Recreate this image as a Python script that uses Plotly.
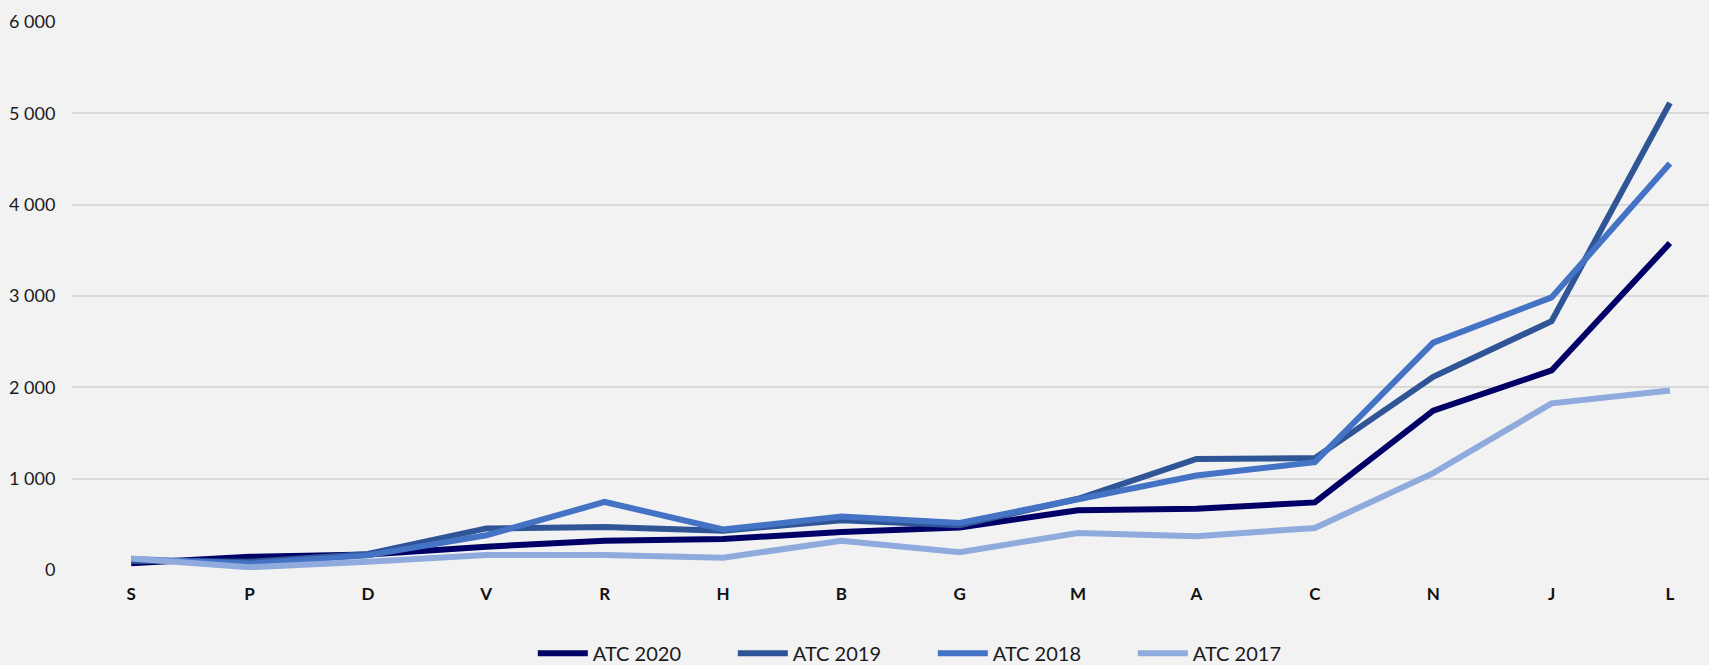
import plotly.graph_objects as go

CATEGORIES = ["S", "P", "D", "V", "R", "H", "B", "G", "M", "A", "C", "N", "J", "L"]

ATC_2020 = [75, 145, 170, 255, 320, 340, 415, 465, 655, 670, 740, 1745, 2185, 3580]
ATC_2019 = [100, 90, 175, 455, 470, 430, 545, 490, 780, 1215, 1225, 2115, 2725, 5115]
ATC_2018 = [120, 70, 160, 380, 745, 445, 585, 515, 775, 1035, 1180, 2490, 2985, 4450]
ATC_2017 = [125, 30, 90, 165, 165, 135, 320, 195, 405, 370, 460, 1060, 1825, 1965]

SERIES = [
    ("ATC 2020", ATC_2020, "#000066"),
    ("ATC 2019", ATC_2019, "#2F5597"),
    ("ATC 2018", ATC_2018, "#4472C4"),
    ("ATC 2017", ATC_2017, "#8FAADC"),
]

Y_TICKS = [0, 1000, 2000, 3000, 4000, 5000, 6000]
Y_LABELS = ["0", "1 000", "2 000", "3 000", "4 000", "5 000", "6 000"]

fig = go.Figure()
for name, values, color in SERIES:
    fig.add_trace(go.Scatter(
        x=CATEGORIES, y=values, name=name, mode="lines",
        line=dict(color=color, width=6, shape="linear"),
        hovertemplate="%{x}: %{y:,}<extra>" + name + "</extra>",
    ))

fig.update_layout(
    width=1709, height=665,
    margin=dict(l=72, r=0, t=22, b=95, autoexpand=False),
    paper_bgcolor="#F2F2F2", plot_bgcolor="#F2F2F2",
    font=dict(family="Lato, 'Open Sans', sans-serif", color="#1a1a1a", size=17),
    showlegend=True,
    legend=dict(
        orientation="h", x=0.2815, xanchor="left", y=-0.152, yanchor="middle",
        font=dict(size=20, color="#1a1a1a"),
        entrywidth=135, entrywidthmode="pixels",
        itemwidth=50, bgcolor="rgba(0,0,0,0)",
    ),
    xaxis=dict(
        type="category", range=[-0.5, 13.33], automargin=False,
        showgrid=False, zeroline=False, showline=False,
        ticks="outside", ticklen=9, tickcolor="rgba(0,0,0,0)",
        tickfont=dict(size=17, color="#111111", family="Lato, 'Open Sans', sans-serif", weight="bold"),
    ),
    yaxis=dict(
        range=[0, 6000], tickvals=Y_TICKS, ticktext=Y_LABELS, automargin=False,
        showgrid=True, gridcolor="#D9D9D9", gridwidth=1.5,
        zeroline=False, showline=False,
        ticks="outside", ticklen=12, tickcolor="rgba(0,0,0,0)",
        tickfont=dict(size=18, color="#1a1a1a"),
    ),
)

# drop the page's default body margin so the figure sits at the window's corner
fig.write_html(
    "out.html",
    config={"displayModeBar": False},
    post_script="document.body.style.margin='0';document.body.style.background='#F2F2F2';",
)
